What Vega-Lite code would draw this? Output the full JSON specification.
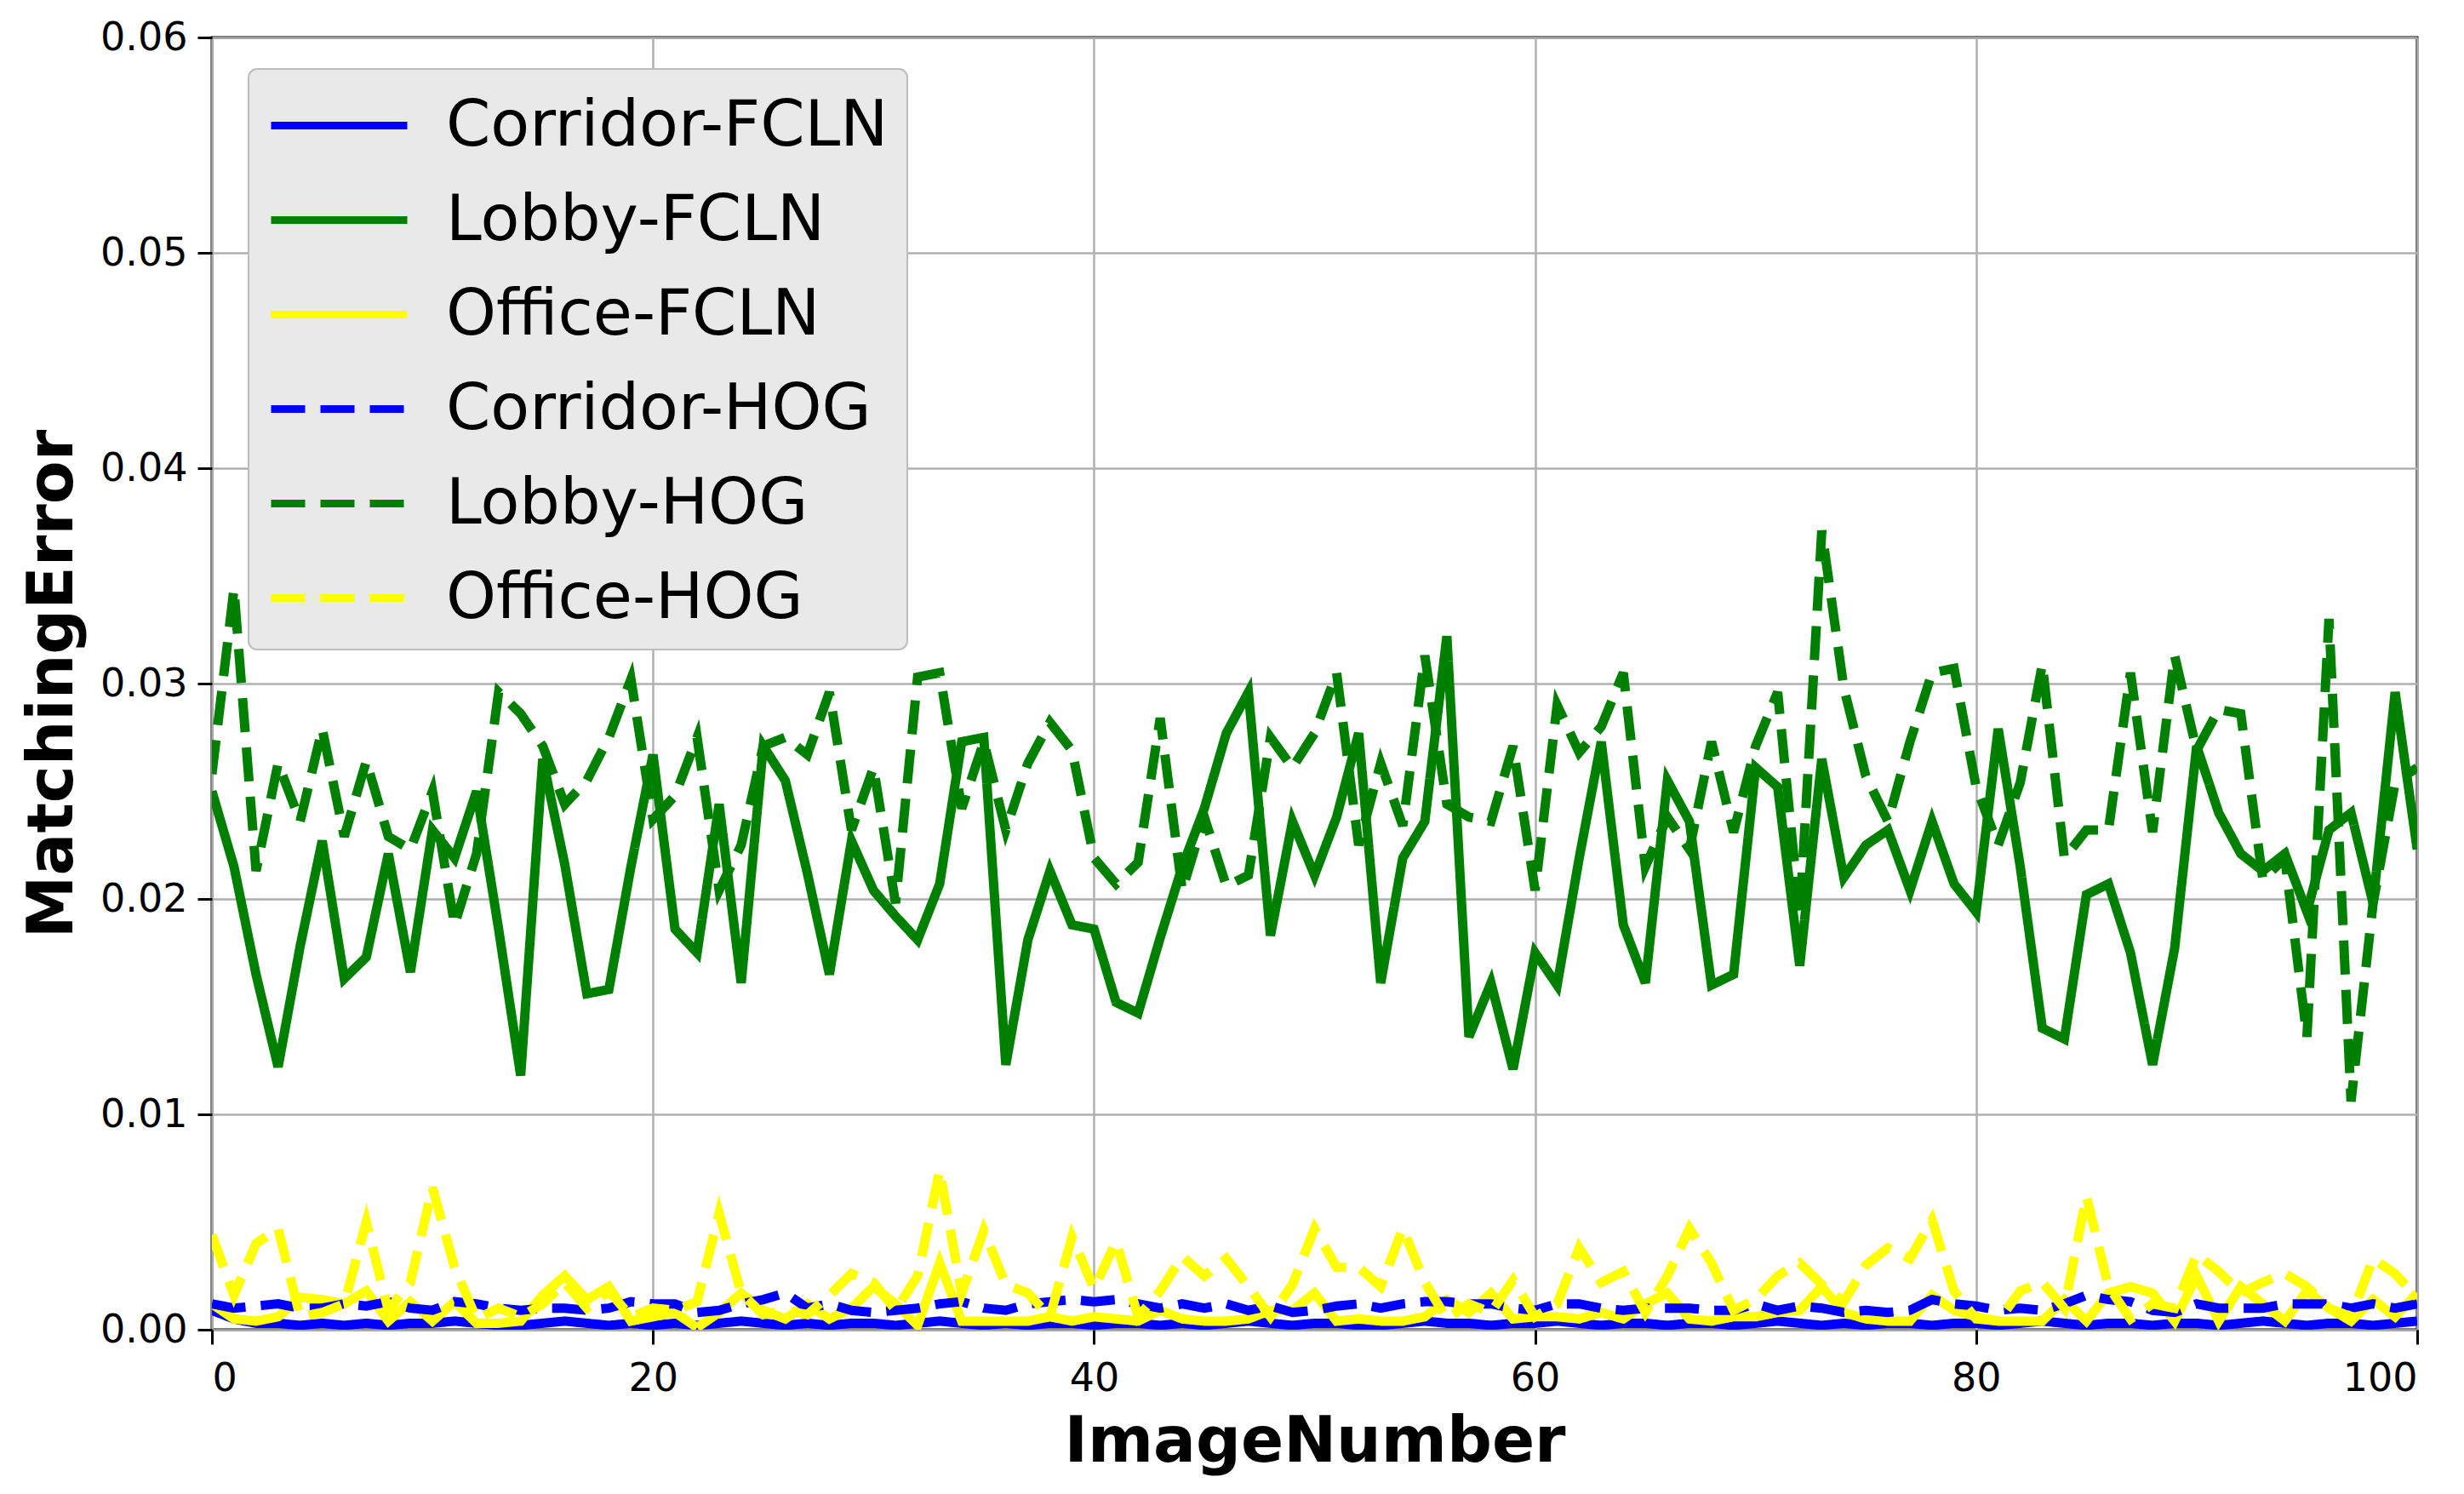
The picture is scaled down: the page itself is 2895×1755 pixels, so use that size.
{
"$schema": "https://vega.github.io/schema/vega-lite/v6.json",
"width": 2591, "height": 1518,
"autosize": {"type": "none"},
"padding": {"left": 249, "top": 44, "right": 55, "bottom": 193},
"background": "white",
"config": {
  "font": "DejaVu Sans",
  "view": {"stroke": "black", "strokeWidth": 3},
  "axis": {"labelFont": "DejaVu Sans", "labelFontSize": 46, "labelColor": "black", "tickColor": "black", "tickSize": 17, "tickWidth": 3, "domain": false, "grid": true, "gridColor": "#b0b0b0", "gridWidth": 2.5, "gridOpacity": 1, "titleFont": "DejaVu Sans", "titleFontWeight": "bold", "titleColor": "black"},
  "legend": {"orient": "none", "legendX": 43, "legendY": 37, "labelFont": "DejaVu Sans", "labelFontSize": 75, "labelColor": "black", "symbolType": "M-1,0H3", "symbolSize": 6400, "symbolStrokeWidth": 9, "labelOffset": 121, "padding": 22, "rowPadding": 28, "fillColor": "#e9e9e9", "strokeColor": "#bdbdbd", "strokeWidth": 2, "cornerRadius": 10, "labelLimit": 0}
},
"data": {"values": [
{"n":0,"Corridor-FCLN":0.0009,"Lobby-FCLN":0.0250,"Office-FCLN":0.0012,"Corridor-HOG":0.0012,"Lobby-HOG":0.0258,"Office-HOG":0.0044},
{"n":1,"Corridor-FCLN":0.0005,"Lobby-FCLN":0.0215,"Office-FCLN":0.0005,"Corridor-HOG":0.0010,"Lobby-HOG":0.0344,"Office-HOG":0.0016},
{"n":2,"Corridor-FCLN":0.0003,"Lobby-FCLN":0.0165,"Office-FCLN":0.0004,"Corridor-HOG":0.0011,"Lobby-HOG":0.0213,"Office-HOG":0.0040},
{"n":3,"Corridor-FCLN":0.0003,"Lobby-FCLN":0.0122,"Office-FCLN":0.0006,"Corridor-HOG":0.0012,"Lobby-HOG":0.0263,"Office-HOG":0.0047},
{"n":4,"Corridor-FCLN":0.0002,"Lobby-FCLN":0.0178,"Office-FCLN":0.0015,"Corridor-HOG":0.0010,"Lobby-HOG":0.0236,"Office-HOG":0.0006},
{"n":5,"Corridor-FCLN":0.0003,"Lobby-FCLN":0.0227,"Office-FCLN":0.0014,"Corridor-HOG":0.0010,"Lobby-HOG":0.0279,"Office-HOG":0.0008},
{"n":6,"Corridor-FCLN":0.0002,"Lobby-FCLN":0.0163,"Office-FCLN":0.0012,"Corridor-HOG":0.0012,"Lobby-HOG":0.0229,"Office-HOG":0.0012},
{"n":7,"Corridor-FCLN":0.0003,"Lobby-FCLN":0.0173,"Office-FCLN":0.0018,"Corridor-HOG":0.0011,"Lobby-HOG":0.0264,"Office-HOG":0.0050},
{"n":8,"Corridor-FCLN":0.0002,"Lobby-FCLN":0.0221,"Office-FCLN":0.0004,"Corridor-HOG":0.0013,"Lobby-HOG":0.0229,"Office-HOG":0.0009},
{"n":9,"Corridor-FCLN":0.0003,"Lobby-FCLN":0.0166,"Office-FCLN":0.0013,"Corridor-HOG":0.0010,"Lobby-HOG":0.0223,"Office-HOG":0.0022},
{"n":10,"Corridor-FCLN":0.0003,"Lobby-FCLN":0.0232,"Office-FCLN":0.0004,"Corridor-HOG":0.0009,"Lobby-HOG":0.0250,"Office-HOG":0.0066},
{"n":11,"Corridor-FCLN":0.0004,"Lobby-FCLN":0.0219,"Office-FCLN":0.0013,"Corridor-HOG":0.0013,"Lobby-HOG":0.0188,"Office-HOG":0.0029},
{"n":12,"Corridor-FCLN":0.0003,"Lobby-FCLN":0.0250,"Office-FCLN":0.0003,"Corridor-HOG":0.0012,"Lobby-HOG":0.0221,"Office-HOG":0.0005},
{"n":13,"Corridor-FCLN":0.0002,"Lobby-FCLN":0.0186,"Office-FCLN":0.0003,"Corridor-HOG":0.0010,"Lobby-HOG":0.0296,"Office-HOG":0.0010},
{"n":14,"Corridor-FCLN":0.0002,"Lobby-FCLN":0.0118,"Office-FCLN":0.0004,"Corridor-HOG":0.0009,"Lobby-HOG":0.0286,"Office-HOG":0.0006},
{"n":15,"Corridor-FCLN":0.0003,"Lobby-FCLN":0.0265,"Office-FCLN":0.0016,"Corridor-HOG":0.0010,"Lobby-HOG":0.0271,"Office-HOG":0.0012},
{"n":16,"Corridor-FCLN":0.0004,"Lobby-FCLN":0.0216,"Office-FCLN":0.0025,"Corridor-HOG":0.0010,"Lobby-HOG":0.0244,"Office-HOG":0.0022},
{"n":17,"Corridor-FCLN":0.0003,"Lobby-FCLN":0.0156,"Office-FCLN":0.0014,"Corridor-HOG":0.0009,"Lobby-HOG":0.0255,"Office-HOG":0.0010},
{"n":18,"Corridor-FCLN":0.0002,"Lobby-FCLN":0.0158,"Office-FCLN":0.0020,"Corridor-HOG":0.0010,"Lobby-HOG":0.0275,"Office-HOG":0.0018},
{"n":19,"Corridor-FCLN":0.0003,"Lobby-FCLN":0.0215,"Office-FCLN":0.0004,"Corridor-HOG":0.0013,"Lobby-HOG":0.0302,"Office-HOG":0.0006},
{"n":20,"Corridor-FCLN":0.0002,"Lobby-FCLN":0.0267,"Office-FCLN":0.0006,"Corridor-HOG":0.0012,"Lobby-HOG":0.0237,"Office-HOG":0.0010},
{"n":21,"Corridor-FCLN":0.0003,"Lobby-FCLN":0.0186,"Office-FCLN":0.0008,"Corridor-HOG":0.0012,"Lobby-HOG":0.0248,"Office-HOG":0.0009},
{"n":22,"Corridor-FCLN":0.0002,"Lobby-FCLN":0.0175,"Office-FCLN":0.0001,"Corridor-HOG":0.0008,"Lobby-HOG":0.0275,"Office-HOG":0.0013},
{"n":23,"Corridor-FCLN":0.0003,"Lobby-FCLN":0.0244,"Office-FCLN":0.0008,"Corridor-HOG":0.0009,"Lobby-HOG":0.0204,"Office-HOG":0.0054},
{"n":24,"Corridor-FCLN":0.0004,"Lobby-FCLN":0.0161,"Office-FCLN":0.0017,"Corridor-HOG":0.0012,"Lobby-HOG":0.0225,"Office-HOG":0.0017},
{"n":25,"Corridor-FCLN":0.0003,"Lobby-FCLN":0.0271,"Office-FCLN":0.0009,"Corridor-HOG":0.0014,"Lobby-HOG":0.0271,"Office-HOG":0.0007},
{"n":26,"Corridor-FCLN":0.0002,"Lobby-FCLN":0.0255,"Office-FCLN":0.0005,"Corridor-HOG":0.0017,"Lobby-HOG":0.0275,"Office-HOG":0.0009},
{"n":27,"Corridor-FCLN":0.0003,"Lobby-FCLN":0.0212,"Office-FCLN":0.0012,"Corridor-HOG":0.0010,"Lobby-HOG":0.0267,"Office-HOG":0.0007},
{"n":28,"Corridor-FCLN":0.0002,"Lobby-FCLN":0.0165,"Office-FCLN":0.0005,"Corridor-HOG":0.0012,"Lobby-HOG":0.0296,"Office-HOG":0.0016},
{"n":29,"Corridor-FCLN":0.0003,"Lobby-FCLN":0.0227,"Office-FCLN":0.0010,"Corridor-HOG":0.0009,"Lobby-HOG":0.0232,"Office-HOG":0.0026},
{"n":30,"Corridor-FCLN":0.0003,"Lobby-FCLN":0.0204,"Office-FCLN":0.0020,"Corridor-HOG":0.0008,"Lobby-HOG":0.0261,"Office-HOG":0.0022},
{"n":31,"Corridor-FCLN":0.0002,"Lobby-FCLN":0.0192,"Office-FCLN":0.0012,"Corridor-HOG":0.0009,"Lobby-HOG":0.0198,"Office-HOG":0.0009},
{"n":32,"Corridor-FCLN":0.0003,"Lobby-FCLN":0.0181,"Office-FCLN":0.0002,"Corridor-HOG":0.0010,"Lobby-HOG":0.0303,"Office-HOG":0.0025},
{"n":33,"Corridor-FCLN":0.0004,"Lobby-FCLN":0.0207,"Office-FCLN":0.0031,"Corridor-HOG":0.0012,"Lobby-HOG":0.0305,"Office-HOG":0.0074},
{"n":34,"Corridor-FCLN":0.0003,"Lobby-FCLN":0.0273,"Office-FCLN":0.0004,"Corridor-HOG":0.0013,"Lobby-HOG":0.0242,"Office-HOG":0.0017},
{"n":35,"Corridor-FCLN":0.0002,"Lobby-FCLN":0.0275,"Office-FCLN":0.0004,"Corridor-HOG":0.0010,"Lobby-HOG":0.0273,"Office-HOG":0.0046},
{"n":36,"Corridor-FCLN":0.0003,"Lobby-FCLN":0.0123,"Office-FCLN":0.0004,"Corridor-HOG":0.0009,"Lobby-HOG":0.0232,"Office-HOG":0.0021},
{"n":37,"Corridor-FCLN":0.0002,"Lobby-FCLN":0.0181,"Office-FCLN":0.0004,"Corridor-HOG":0.0012,"Lobby-HOG":0.0263,"Office-HOG":0.0017},
{"n":38,"Corridor-FCLN":0.0003,"Lobby-FCLN":0.0213,"Office-FCLN":0.0006,"Corridor-HOG":0.0013,"Lobby-HOG":0.0282,"Office-HOG":0.0006},
{"n":39,"Corridor-FCLN":0.0003,"Lobby-FCLN":0.0188,"Office-FCLN":0.0004,"Corridor-HOG":0.0014,"Lobby-HOG":0.0269,"Office-HOG":0.0043},
{"n":40,"Corridor-FCLN":0.0002,"Lobby-FCLN":0.0186,"Office-FCLN":0.0006,"Corridor-HOG":0.0013,"Lobby-HOG":0.0219,"Office-HOG":0.0019},
{"n":41,"Corridor-FCLN":0.0003,"Lobby-FCLN":0.0152,"Office-FCLN":0.0005,"Corridor-HOG":0.0014,"Lobby-HOG":0.0207,"Office-HOG":0.0041},
{"n":42,"Corridor-FCLN":0.0003,"Lobby-FCLN":0.0147,"Office-FCLN":0.0004,"Corridor-HOG":0.0012,"Lobby-HOG":0.0217,"Office-HOG":0.0006},
{"n":43,"Corridor-FCLN":0.0002,"Lobby-FCLN":0.0182,"Office-FCLN":0.0009,"Corridor-HOG":0.0010,"Lobby-HOG":0.0284,"Office-HOG":0.0018},
{"n":44,"Corridor-FCLN":0.0003,"Lobby-FCLN":0.0215,"Office-FCLN":0.0005,"Corridor-HOG":0.0012,"Lobby-HOG":0.0204,"Office-HOG":0.0034},
{"n":45,"Corridor-FCLN":0.0002,"Lobby-FCLN":0.0242,"Office-FCLN":0.0004,"Corridor-HOG":0.0010,"Lobby-HOG":0.0238,"Office-HOG":0.0025},
{"n":46,"Corridor-FCLN":0.0003,"Lobby-FCLN":0.0277,"Office-FCLN":0.0004,"Corridor-HOG":0.0012,"Lobby-HOG":0.0206,"Office-HOG":0.0033},
{"n":47,"Corridor-FCLN":0.0004,"Lobby-FCLN":0.0296,"Office-FCLN":0.0005,"Corridor-HOG":0.0009,"Lobby-HOG":0.0211,"Office-HOG":0.0020},
{"n":48,"Corridor-FCLN":0.0003,"Lobby-FCLN":0.0183,"Office-FCLN":0.0009,"Corridor-HOG":0.0011,"Lobby-HOG":0.0275,"Office-HOG":0.0006},
{"n":49,"Corridor-FCLN":0.0002,"Lobby-FCLN":0.0236,"Office-FCLN":0.0009,"Corridor-HOG":0.0008,"Lobby-HOG":0.0261,"Office-HOG":0.0021},
{"n":50,"Corridor-FCLN":0.0003,"Lobby-FCLN":0.0211,"Office-FCLN":0.0017,"Corridor-HOG":0.0009,"Lobby-HOG":0.0277,"Office-HOG":0.0047},
{"n":51,"Corridor-FCLN":0.0003,"Lobby-FCLN":0.0238,"Office-FCLN":0.0004,"Corridor-HOG":0.0011,"Lobby-HOG":0.0305,"Office-HOG":0.0029},
{"n":52,"Corridor-FCLN":0.0002,"Lobby-FCLN":0.0277,"Office-FCLN":0.0005,"Corridor-HOG":0.0012,"Lobby-HOG":0.0225,"Office-HOG":0.0029},
{"n":53,"Corridor-FCLN":0.0002,"Lobby-FCLN":0.0161,"Office-FCLN":0.0004,"Corridor-HOG":0.0010,"Lobby-HOG":0.0263,"Office-HOG":0.0020},
{"n":54,"Corridor-FCLN":0.0003,"Lobby-FCLN":0.0219,"Office-FCLN":0.0004,"Corridor-HOG":0.0012,"Lobby-HOG":0.0234,"Office-HOG":0.0047},
{"n":55,"Corridor-FCLN":0.0004,"Lobby-FCLN":0.0236,"Office-FCLN":0.0006,"Corridor-HOG":0.0013,"Lobby-HOG":0.0313,"Office-HOG":0.0022},
{"n":56,"Corridor-FCLN":0.0003,"Lobby-FCLN":0.0322,"Office-FCLN":0.0014,"Corridor-HOG":0.0013,"Lobby-HOG":0.0244,"Office-HOG":0.0005},
{"n":57,"Corridor-FCLN":0.0003,"Lobby-FCLN":0.0136,"Office-FCLN":0.0008,"Corridor-HOG":0.0012,"Lobby-HOG":0.0238,"Office-HOG":0.0012},
{"n":58,"Corridor-FCLN":0.0002,"Lobby-FCLN":0.0161,"Office-FCLN":0.0017,"Corridor-HOG":0.0012,"Lobby-HOG":0.0236,"Office-HOG":0.0008},
{"n":59,"Corridor-FCLN":0.0003,"Lobby-FCLN":0.0121,"Office-FCLN":0.0005,"Corridor-HOG":0.0010,"Lobby-HOG":0.0271,"Office-HOG":0.0023},
{"n":60,"Corridor-FCLN":0.0003,"Lobby-FCLN":0.0175,"Office-FCLN":0.0006,"Corridor-HOG":0.0009,"Lobby-HOG":0.0204,"Office-HOG":0.0006},
{"n":61,"Corridor-FCLN":0.0004,"Lobby-FCLN":0.0160,"Office-FCLN":0.0006,"Corridor-HOG":0.0012,"Lobby-HOG":0.0290,"Office-HOG":0.0012},
{"n":62,"Corridor-FCLN":0.0003,"Lobby-FCLN":0.0219,"Office-FCLN":0.0005,"Corridor-HOG":0.0012,"Lobby-HOG":0.0268,"Office-HOG":0.0038},
{"n":63,"Corridor-FCLN":0.0002,"Lobby-FCLN":0.0273,"Office-FCLN":0.0008,"Corridor-HOG":0.0010,"Lobby-HOG":0.0280,"Office-HOG":0.0022},
{"n":64,"Corridor-FCLN":0.0003,"Lobby-FCLN":0.0188,"Office-FCLN":0.0005,"Corridor-HOG":0.0009,"Lobby-HOG":0.0305,"Office-HOG":0.0027},
{"n":65,"Corridor-FCLN":0.0003,"Lobby-FCLN":0.0161,"Office-FCLN":0.0012,"Corridor-HOG":0.0010,"Lobby-HOG":0.0215,"Office-HOG":0.0008},
{"n":66,"Corridor-FCLN":0.0002,"Lobby-FCLN":0.0255,"Office-FCLN":0.0017,"Corridor-HOG":0.0010,"Lobby-HOG":0.0238,"Office-HOG":0.0025},
{"n":67,"Corridor-FCLN":0.0003,"Lobby-FCLN":0.0236,"Office-FCLN":0.0005,"Corridor-HOG":0.0010,"Lobby-HOG":0.0223,"Office-HOG":0.0047},
{"n":68,"Corridor-FCLN":0.0003,"Lobby-FCLN":0.0160,"Office-FCLN":0.0004,"Corridor-HOG":0.0009,"Lobby-HOG":0.0273,"Office-HOG":0.0031},
{"n":69,"Corridor-FCLN":0.0002,"Lobby-FCLN":0.0165,"Office-FCLN":0.0006,"Corridor-HOG":0.0009,"Lobby-HOG":0.0231,"Office-HOG":0.0009},
{"n":70,"Corridor-FCLN":0.0003,"Lobby-FCLN":0.0261,"Office-FCLN":0.0006,"Corridor-HOG":0.0012,"Lobby-HOG":0.0271,"Office-HOG":0.0014},
{"n":71,"Corridor-FCLN":0.0004,"Lobby-FCLN":0.0252,"Office-FCLN":0.0008,"Corridor-HOG":0.0009,"Lobby-HOG":0.0296,"Office-HOG":0.0025},
{"n":72,"Corridor-FCLN":0.0003,"Lobby-FCLN":0.0169,"Office-FCLN":0.0009,"Corridor-HOG":0.0011,"Lobby-HOG":0.0192,"Office-HOG":0.0031},
{"n":73,"Corridor-FCLN":0.0002,"Lobby-FCLN":0.0265,"Office-FCLN":0.0020,"Corridor-HOG":0.0010,"Lobby-HOG":0.0371,"Office-HOG":0.0021},
{"n":74,"Corridor-FCLN":0.0003,"Lobby-FCLN":0.0210,"Office-FCLN":0.0008,"Corridor-HOG":0.0008,"Lobby-HOG":0.0298,"Office-HOG":0.0013},
{"n":75,"Corridor-FCLN":0.0002,"Lobby-FCLN":0.0225,"Office-FCLN":0.0005,"Corridor-HOG":0.0009,"Lobby-HOG":0.0257,"Office-HOG":0.0030},
{"n":76,"Corridor-FCLN":0.0003,"Lobby-FCLN":0.0232,"Office-FCLN":0.0004,"Corridor-HOG":0.0008,"Lobby-HOG":0.0236,"Office-HOG":0.0038},
{"n":77,"Corridor-FCLN":0.0003,"Lobby-FCLN":0.0204,"Office-FCLN":0.0004,"Corridor-HOG":0.0009,"Lobby-HOG":0.0273,"Office-HOG":0.0033},
{"n":78,"Corridor-FCLN":0.0002,"Lobby-FCLN":0.0236,"Office-FCLN":0.0016,"Corridor-HOG":0.0014,"Lobby-HOG":0.0305,"Office-HOG":0.0051},
{"n":79,"Corridor-FCLN":0.0003,"Lobby-FCLN":0.0207,"Office-FCLN":0.0009,"Corridor-HOG":0.0012,"Lobby-HOG":0.0307,"Office-HOG":0.0018},
{"n":80,"Corridor-FCLN":0.0003,"Lobby-FCLN":0.0194,"Office-FCLN":0.0006,"Corridor-HOG":0.0011,"Lobby-HOG":0.0252,"Office-HOG":0.0005},
{"n":81,"Corridor-FCLN":0.0002,"Lobby-FCLN":0.0279,"Office-FCLN":0.0004,"Corridor-HOG":0.0009,"Lobby-HOG":0.0225,"Office-HOG":0.0004},
{"n":82,"Corridor-FCLN":0.0003,"Lobby-FCLN":0.0215,"Office-FCLN":0.0004,"Corridor-HOG":0.0010,"Lobby-HOG":0.0254,"Office-HOG":0.0018},
{"n":83,"Corridor-FCLN":0.0004,"Lobby-FCLN":0.0140,"Office-FCLN":0.0004,"Corridor-HOG":0.0009,"Lobby-HOG":0.0309,"Office-HOG":0.0022},
{"n":84,"Corridor-FCLN":0.0003,"Lobby-FCLN":0.0135,"Office-FCLN":0.0014,"Corridor-HOG":0.0012,"Lobby-HOG":0.0219,"Office-HOG":0.0010},
{"n":85,"Corridor-FCLN":0.0002,"Lobby-FCLN":0.0202,"Office-FCLN":0.0004,"Corridor-HOG":0.0016,"Lobby-HOG":0.0232,"Office-HOG":0.0062},
{"n":86,"Corridor-FCLN":0.0003,"Lobby-FCLN":0.0207,"Office-FCLN":0.0017,"Corridor-HOG":0.0014,"Lobby-HOG":0.0232,"Office-HOG":0.0020},
{"n":87,"Corridor-FCLN":0.0003,"Lobby-FCLN":0.0175,"Office-FCLN":0.0020,"Corridor-HOG":0.0013,"Lobby-HOG":0.0305,"Office-HOG":0.0005},
{"n":88,"Corridor-FCLN":0.0002,"Lobby-FCLN":0.0123,"Office-FCLN":0.0017,"Corridor-HOG":0.0009,"Lobby-HOG":0.0231,"Office-HOG":0.0012},
{"n":89,"Corridor-FCLN":0.0003,"Lobby-FCLN":0.0177,"Office-FCLN":0.0004,"Corridor-HOG":0.0008,"Lobby-HOG":0.0313,"Office-HOG":0.0010},
{"n":90,"Corridor-FCLN":0.0003,"Lobby-FCLN":0.0271,"Office-FCLN":0.0025,"Corridor-HOG":0.0012,"Lobby-HOG":0.0269,"Office-HOG":0.0035},
{"n":91,"Corridor-FCLN":0.0002,"Lobby-FCLN":0.0240,"Office-FCLN":0.0004,"Corridor-HOG":0.0010,"Lobby-HOG":0.0288,"Office-HOG":0.0027},
{"n":92,"Corridor-FCLN":0.0003,"Lobby-FCLN":0.0221,"Office-FCLN":0.0020,"Corridor-HOG":0.0010,"Lobby-HOG":0.0286,"Office-HOG":0.0017},
{"n":93,"Corridor-FCLN":0.0004,"Lobby-FCLN":0.0213,"Office-FCLN":0.0012,"Corridor-HOG":0.0010,"Lobby-HOG":0.0209,"Office-HOG":0.0022},
{"n":94,"Corridor-FCLN":0.0003,"Lobby-FCLN":0.0221,"Office-FCLN":0.0004,"Corridor-HOG":0.0012,"Lobby-HOG":0.0219,"Office-HOG":0.0026},
{"n":95,"Corridor-FCLN":0.0002,"Lobby-FCLN":0.0194,"Office-FCLN":0.0018,"Corridor-HOG":0.0012,"Lobby-HOG":0.0136,"Office-HOG":0.0020},
{"n":96,"Corridor-FCLN":0.0003,"Lobby-FCLN":0.0232,"Office-FCLN":0.0010,"Corridor-HOG":0.0012,"Lobby-HOG":0.0330,"Office-HOG":0.0010},
{"n":97,"Corridor-FCLN":0.0003,"Lobby-FCLN":0.0240,"Office-FCLN":0.0004,"Corridor-HOG":0.0010,"Lobby-HOG":0.0106,"Office-HOG":0.0006},
{"n":98,"Corridor-FCLN":0.0002,"Lobby-FCLN":0.0198,"Office-FCLN":0.0014,"Corridor-HOG":0.0012,"Lobby-HOG":0.0198,"Office-HOG":0.0033},
{"n":99,"Corridor-FCLN":0.0003,"Lobby-FCLN":0.0296,"Office-FCLN":0.0006,"Corridor-HOG":0.0010,"Lobby-HOG":0.0254,"Office-HOG":0.0026},
{"n":100,"Corridor-FCLN":0.0004,"Lobby-FCLN":0.0223,"Office-FCLN":0.0017,"Corridor-HOG":0.0012,"Lobby-HOG":0.0261,"Office-HOG":0.0015}
]},
"transform": [{"fold": ["Corridor-FCLN", "Lobby-FCLN", "Office-FCLN", "Corridor-HOG", "Lobby-HOG", "Office-HOG"], "as": ["series", "value"]}],
"mark": {"type": "line", "strokeWidth": 11, "clip": true},
"encoding": {
  "x": {"field": "n", "type": "quantitative", "scale": {"domain": [0, 100], "nice": false, "zero": false},
        "axis": {"values": [0, 20, 40, 60, 80, 100], "title": "ImageNumber", "titleFontSize": 74, "labelPadding": 18, "titlePadding": 16}},
  "y": {"field": "value", "type": "quantitative", "scale": {"domain": [0, 0.06], "nice": false},
        "axis": {"values": [0, 0.01, 0.02, 0.03, 0.04, 0.05, 0.06], "format": ".2f", "title": "MatchingError", "titleFontSize": 74, "labelPadding": 12, "titlePadding": 17}},
  "color": {"field": "series", "type": "nominal",
            "scale": {"domain": ["Corridor-FCLN", "Lobby-FCLN", "Office-FCLN", "Corridor-HOG", "Lobby-HOG", "Office-HOG"], "range": ["#0000ff", "#008000", "#ffff00", "#0000ff", "#008000", "#ffff00"]},
            "legend": {"title": null}},
  "strokeDash": {"field": "series", "type": "nominal",
            "scale": {"domain": ["Corridor-FCLN", "Lobby-FCLN", "Office-FCLN", "Corridor-HOG", "Lobby-HOG", "Office-HOG"], "range": [[1, 0], [1, 0], [1, 0], [40, 18], [40, 18], [40, 18]]},
            "legend": {"title": null}}
}
}
